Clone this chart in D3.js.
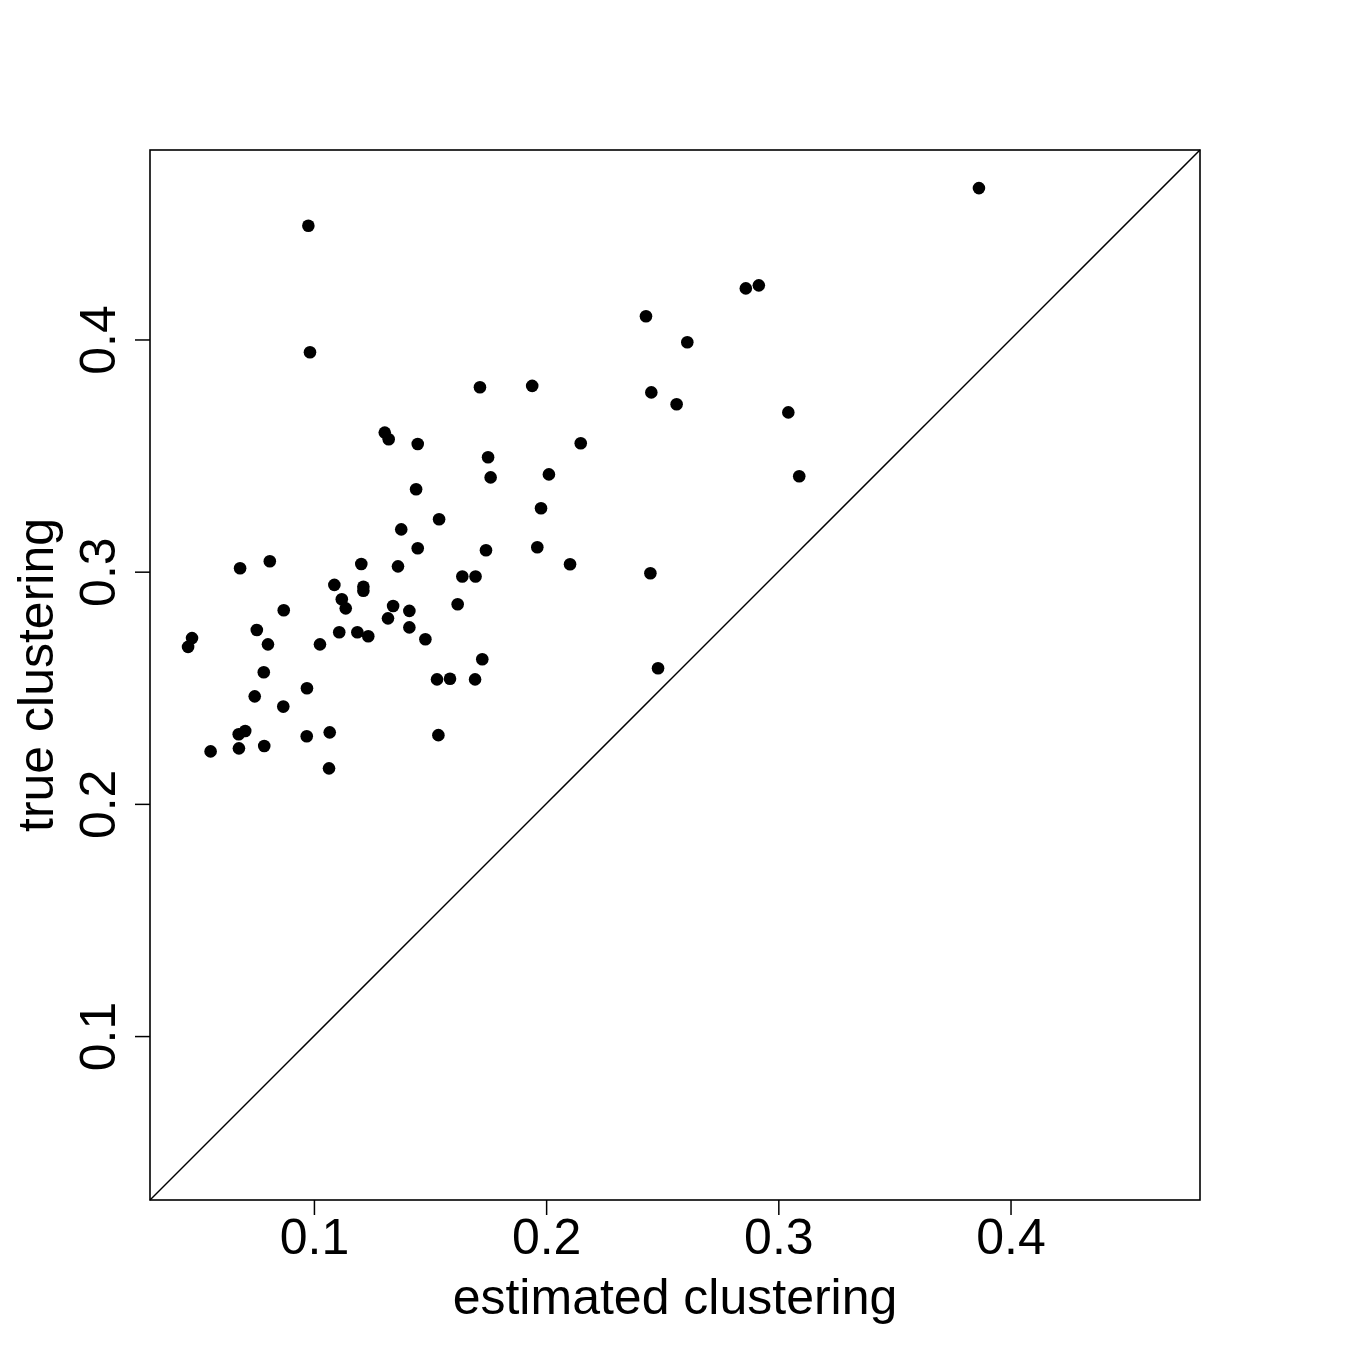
<!DOCTYPE html>
<html>
<head>
<meta charset="utf-8">
<script src="https://cdn.jsdelivr.net/npm/d3@7"></script>
<style>
  html, body { margin: 0; padding: 0; background: #fff; }
  text { font-family: "Liberation Sans", Arial, Helvetica, sans-serif; fill: #000; }
</style>
</head>
<body>
<svg id="chart" width="1350" height="1350"></svg>
<script>
// estimated clustering (x) and true clustering (y)
const estimated = [
  0.0458, 0.0475, 0.0555, 0.0677, 0.0682, 0.0704, 0.0676, 0.0745, 0.0754, 0.0784,
  0.0786, 0.0802, 0.0810, 0.0870, 0.0868, 0.0970, 0.0969, 0.0976, 0.0983, 0.1026,
  0.1068, 0.1065, 0.1088, 0.1109, 0.1120, 0.1137, 0.1187, 0.1204, 0.1213, 0.1213,
  0.1234, 0.1305, 0.1322, 0.1319, 0.1341, 0.1362, 0.1376, 0.1411, 0.1411, 0.1440,
  0.1447, 0.1447, 0.1480, 0.1530, 0.1536, 0.1539, 0.1586, 0.1619, 0.1639, 0.1696,
  0.1694, 0.1715, 0.1725, 0.1741, 0.1750, 0.1761, 0.1940, 0.1962, 0.1978, 0.2012,
  0.2103, 0.2149, 0.2430, 0.2449, 0.2453, 0.2482, 0.2562, 0.2608, 0.2860, 0.2916,
  0.3043, 0.3090, 0.3864
];
const trueClust = [
  0.2676, 0.2714, 0.2226, 0.2239, 0.3015, 0.2314, 0.2300, 0.2463, 0.2749, 0.2567,
  0.2249, 0.2687, 0.3045, 0.2834, 0.2419, 0.2498, 0.2291, 0.4490, 0.3945, 0.2687,
  0.2308, 0.2153, 0.2943, 0.2739, 0.2881, 0.2842, 0.2739, 0.3033, 0.2935, 0.2918,
  0.2722, 0.3599, 0.3570, 0.2799, 0.2852, 0.3023, 0.3182, 0.2831, 0.2760, 0.3355,
  0.3550, 0.3101, 0.2709, 0.2536, 0.2296, 0.3226, 0.2539, 0.2860, 0.2979, 0.2979,
  0.2536, 0.3794, 0.2623, 0.3092, 0.3493, 0.3406, 0.3800, 0.3105, 0.3273, 0.3419,
  0.3032, 0.3553, 0.4100, 0.2993, 0.3772, 0.2584, 0.3721, 0.3988, 0.4220, 0.4233,
  0.3686, 0.3411, 0.4652
];
const xTicks = [0.1, 0.2, 0.3, 0.4];
const yTicks = [0.1, 0.2, 0.3, 0.4];
const xTitle = "estimated clustering";
const yTitle = "true clustering";

const points = estimated.map((e, i) => ({x: e, y: trueClust[i]}));

const svg = d3.select("#chart");
const L = 150, R = 1200, T = 150, B = 1200;
const dom = [0.0294, 0.4816];

const x = d3.scaleLinear().domain(dom).range([L, R]);
const y = d3.scaleLinear().domain(dom).range([B, T]);

// diagonal y = x
svg.append("line")
  .attr("x1", x(dom[0])).attr("y1", y(dom[0]))
  .attr("x2", x(dom[1])).attr("y2", y(dom[1]))
  .attr("stroke", "#000").attr("stroke-width", 1.5);

// points
svg.append("g").selectAll("circle").data(points).join("circle")
  .attr("cx", d => x(d.x)).attr("cy", d => y(d.y))
  .attr("r", 6.3).attr("fill", "#000");

// box
svg.append("rect")
  .attr("x", L).attr("y", T).attr("width", R - L).attr("height", B - T)
  .attr("fill", "none").attr("stroke", "#000").attr("stroke-width", 1.6);

// x axis
const xAxis = d3.axisBottom(x).tickValues(xTicks).tickSize(15).tickPadding(4)
  .tickFormat(d3.format(".1f"));
const gx = svg.append("g").attr("transform", `translate(0,${B})`).call(xAxis);
gx.select(".domain").remove();
gx.selectAll(".tick line").attr("stroke", "#000").attr("stroke-width", 1.5);
gx.selectAll(".tick text")
  .attr("y", null).attr("dy", null)
  .attr("transform", "translate(0,54)")
  .style("font-size", "50px").style("font-family", "'Liberation Sans', Arial, sans-serif")
  .attr("text-anchor", "middle");

// y axis
const yAxis = d3.axisLeft(y).tickValues(yTicks).tickSize(15)
  .tickFormat(d3.format(".1f"));
const gy = svg.append("g").attr("transform", `translate(${L},0)`).call(yAxis);
gy.select(".domain").remove();
gy.selectAll(".tick line").attr("stroke", "#000").attr("stroke-width", 1.5);
gy.selectAll(".tick text")
  .attr("x", null).attr("dy", null)
  .attr("transform", "translate(-35,0) rotate(-90)")
  .attr("text-anchor", "middle")
  .style("font-size", "50px").style("font-family", "'Liberation Sans', Arial, sans-serif");

// axis titles
svg.append("text")
  .attr("x", (L + R) / 2).attr("y", 1314)
  .attr("text-anchor", "middle")
  .style("font-size", "50px")
  .text(xTitle);

svg.append("text")
  .attr("transform", `translate(53,${(T + B) / 2}) rotate(-90)`)
  .attr("text-anchor", "middle")
  .style("font-size", "50px")
  .text(yTitle);
</script>
</body>
</html>
